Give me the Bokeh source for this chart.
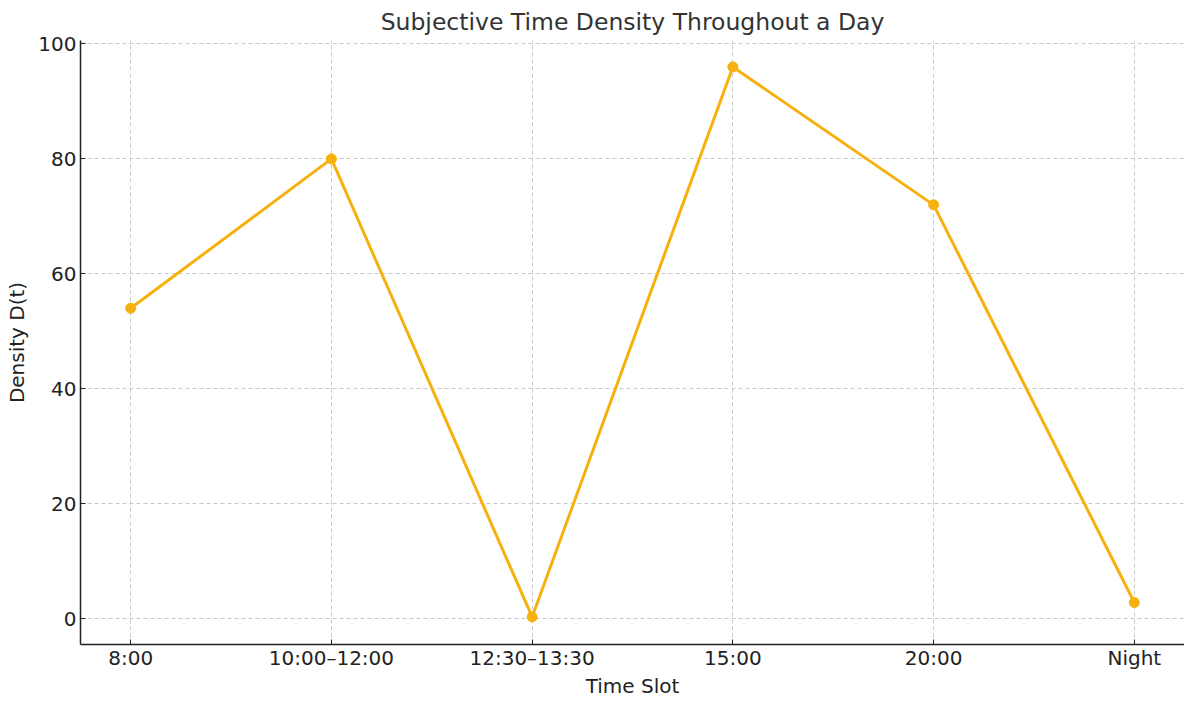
import numpy as np
from bokeh.plotting import figure
from bokeh.models import Range1d, FixedTicker
from bokeh.embed import file_html
from bokeh.resources import INLINE

# data
slots = ["8:00", "10:00\u201312:00", "12:30\u201313:30", "15:00", "20:00", "Night"]
density = [54.0, 80.0, 0.3, 96.0, 72.0, 2.8]
y_ticks = [0, 20, 40, 60, 80, 100]

FONT = "DejaVu Sans"
ORANGE = "#F6B10E"

x = list(range(len(slots)))

p = figure(width=1184, height=700, output_backend="svg", toolbar_location=None,
           x_range=Range1d(-0.25, len(slots) - 0.75), y_range=Range1d(-4.5, 100.6),
           min_border_left=80, min_border_right=0, min_border_top=40, min_border_bottom=40)

p.line(x, density, line_color=ORANGE, line_width=3)
p.scatter(x, density, size=10, fill_color=ORANGE, line_color=ORANGE)

# title
p.title.text = "Subjective Time Density Throughout a Day"
p.title.align = "center"
p.title.text_font = FONT
p.title.text_font_size = "23.5px"
p.title.text_font_style = "normal"
p.title.text_color = "#333333"

# axes
p.xaxis.ticker = FixedTicker(ticks=x)
p.xaxis.major_label_overrides = {i: s for i, s in enumerate(slots)}
p.yaxis.ticker = FixedTicker(ticks=y_ticks)
p.xaxis.axis_label = "Time Slot"
p.yaxis.axis_label = "Density D(t)"
for ax in (p.xaxis[0], p.yaxis[0]):
    ax.axis_label_text_font = FONT
    ax.axis_label_text_font_size = "20px"
    ax.axis_label_text_font_style = "normal"
    ax.axis_label_text_color = "#222222"
    ax.axis_label_text_line_height = 0.8
    ax.major_label_text_font = FONT
    ax.major_label_text_font_size = "20px"
    ax.major_label_text_color = "#222222"
    ax.major_label_text_line_height = 0.8
    ax.axis_line_color = "#222222"
    ax.axis_line_width = 1.5
    ax.major_tick_line_color = "#222222"
    ax.major_tick_in = 5
    ax.major_tick_out = 0
    ax.minor_tick_line_color = None
p.xaxis.major_label_standoff = 1
p.xaxis.axis_label_standoff = 1
p.yaxis.major_label_standoff = 4
p.yaxis.axis_label_standoff = 6

# grid
for g in (p.xgrid[0], p.ygrid[0]):
    g.grid_line_color = "#c8c8c8"
    g.grid_line_dash = "4 3"
    g.grid_line_width = 1

p.outline_line_color = None

open("out.html", "w").write(file_html(p, INLINE))
